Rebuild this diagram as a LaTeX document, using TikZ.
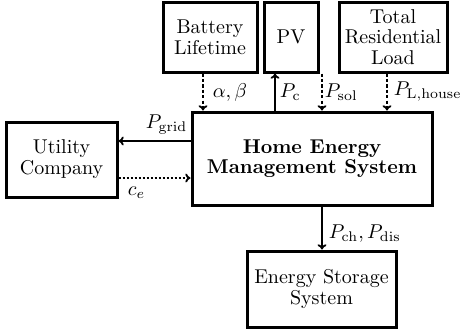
\documentclass[tikz,border=0pt]{standalone}
\usetikzlibrary{arrows.meta}
\begin{document}
\begin{tikzpicture}[x=0.5pt,y=-0.5pt,
  box/.style={draw,line width=1.5pt,align=center,inner sep=0pt,font=\fontsize{10}{10.4}\selectfont},
  flow/.style={line width=0.9pt,-{To[length=2.6pt,width=4.4pt]}},
  dsh/.style={flow,dash pattern=on 1.6pt off 1.1pt},
  dtt/.style={flow,dash pattern=on 1pt off 1pt},
  lbl/.style={inner sep=1pt}]
\useasboundingbox (0,0) rectangle (461,333);
\node[box,minimum width=47pt,minimum height=35pt] (batt) at (210,37) {Battery\\Lifetime};
\node[box,minimum width=27pt,minimum height=35pt] (pv) at (291,37) {PV};
\node[box,minimum width=54pt,minimum height=35pt] (load) at (393,37) {Total\\Residential\\Load};
\node[box,minimum width=120pt,minimum height=46.5pt,font=\fontsize{10}{10.2}\selectfont\bfseries] (hems) at (312,158.5) {Home Energy\\Management System};
\node[box,minimum width=55.5pt,minimum height=37.5pt] (util) at (61.5,159.5) {Utility\\Company};
\node[box,minimum width=74.5pt,minimum height=38pt] (ess) at (321.5,289) {Energy Storage\\System};
\coordinate (xb) at (203,0);
\coordinate (xp) at (275,0);
\coordinate (xs) at (322,0);
\coordinate (xl) at (387,0);
\coordinate (yg) at (0,141);
\coordinate (yc) at (0,178);
\draw[dsh] (batt.south -| xb) -- (hems.north -| xb) node[lbl,midway,right=3.5pt] {$\alpha,\beta$};
\draw[flow] (hems.north -| xp) -- (pv.south -| xp) node[lbl,midway,right=1pt] {$P_{\mathrm{c}}$};
\draw[dsh] (pv.south -| xs) -- (hems.north -| xs) node[lbl,midway,right=0pt] {$P_{\mathrm{sol}}$};
\draw[dsh] (load.south -| xl) -- (hems.north -| xl) node[lbl,midway,right=2pt] {$P_{\mathrm{L,house}}$};
\draw[flow] (hems.west |- yg) -- (util.east |- yg) node[lbl,midway,above=2pt,xshift=6pt] {$P_{\mathrm{grid}}$};
\draw[dtt] (util.east |- yc) -- (hems.west |- yc) node[lbl,midway,below=3pt,xshift=-9pt] {$c_e$};
\draw[flow] (hems.south -| xs) -- (ess.north -| xs) node[lbl,pos=0.62,right=2pt] {$P_{\mathrm{ch}},P_{\mathrm{dis}}$};
\end{tikzpicture}
\end{document}
